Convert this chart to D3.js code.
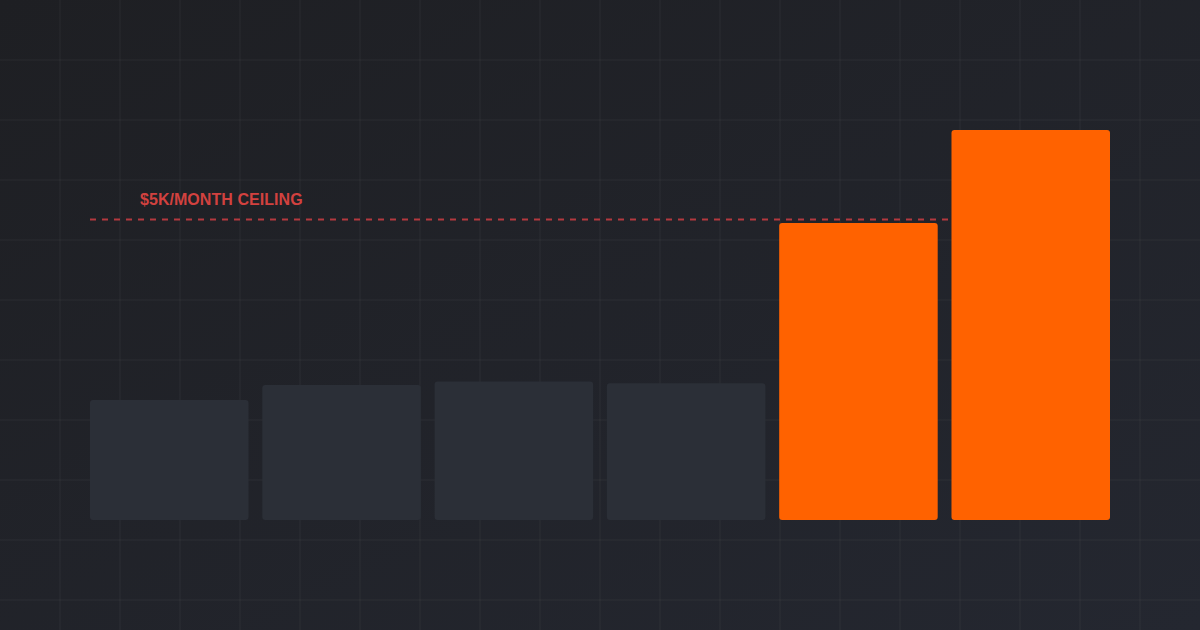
<!DOCTYPE html>
<html>
<head>
<meta charset="utf-8">
<script src="https://cdn.jsdelivr.net/npm/d3@7"></script>
<style>
    html, body { margin: 0; padding: 0; background: #1f2024; }
    svg { display: block; }
</style>
</head>
<body>
<svg width="1200" height="630"></svg>
<script>
const months = ['M1', 'M2', 'M3', 'M4', 'M5', 'M6'];
const spend = [2000, 2250, 2310, 2280, 4950, 6500];
const overCeiling = [false, false, false, false, true, true];
const ceiling = 5000;
const ceilingLabel = '$5K/MONTH CEILING';

const W = 1200;
const H = 630;

const svg = d3.select('svg');

// background
const defs = svg.append('defs');
const grad = defs.append('linearGradient')
    .attr('id', 'bg')
    .attr('x1', '0%').attr('y1', '0%')
    .attr('x2', '100%').attr('y2', '100%');
grad.append('stop').attr('offset', '0%').attr('stop-color', '#1e1f23');
grad.append('stop').attr('offset', '100%').attr('stop-color', '#242730');

svg.append('rect')
    .attr('width', W)
    .attr('height', H)
    .attr('fill', 'url(#bg)');

// grid every 60px
const grid = svg.append('g').attr('stroke', 'rgba(255,255,255,0.035)').attr('stroke-width', 1.5);
d3.range(60, W, 60).forEach((x) => {
    grid.append('line').attr('x1', x).attr('x2', x).attr('y1', 0).attr('y2', H);
});
d3.range(60, H, 60).forEach((y) => {
    grid.append('line').attr('x1', 0).attr('x2', W).attr('y1', y).attr('y2', y);
});

const xScale = d3.scaleBand()
    .domain(months)
    .range([90, 1110])
    .paddingInner(0.08)
    .paddingOuter(0);

const yScale = d3.scaleLinear()
    .domain([0, 6500])
    .range([520, 130]);

// ceiling line, behind the bars
svg.append('line')
    .attr('x1', 90)
    .attr('x2', 1110)
    .attr('y1', yScale(ceiling) - 0.5)
    .attr('y2', yScale(ceiling) - 0.5)
    .attr('stroke', '#b3393f')
    .attr('stroke-width', 2.2)
    .attr('stroke-dasharray', '6,6');

svg.append('text')
    .attr('x', 140)
    .attr('y', yScale(ceiling) - 15)
    .attr('fill', '#d2413f')
    .attr('font-family', '"Liberation Sans", Arial, sans-serif')
    .attr('font-weight', 'bold')
    .attr('font-size', 16)
    .attr('letter-spacing', 0.05)
    .text(ceilingLabel);

svg.append('g')
    .selectAll('rect')
    .data(months)
    .enter()
    .append('rect')
    .attr('x', (d) => xScale(d))
    .attr('y', (d, i) => yScale(spend[i]))
    .attr('width', xScale.bandwidth())
    .attr('height', (d, i) => yScale(0) - yScale(spend[i]))
    .attr('rx', 3)
    .attr('fill', (d, i) => overCeiling[i] ? '#ff6200' : '#2b2f37');
</script>
</body>
</html>
